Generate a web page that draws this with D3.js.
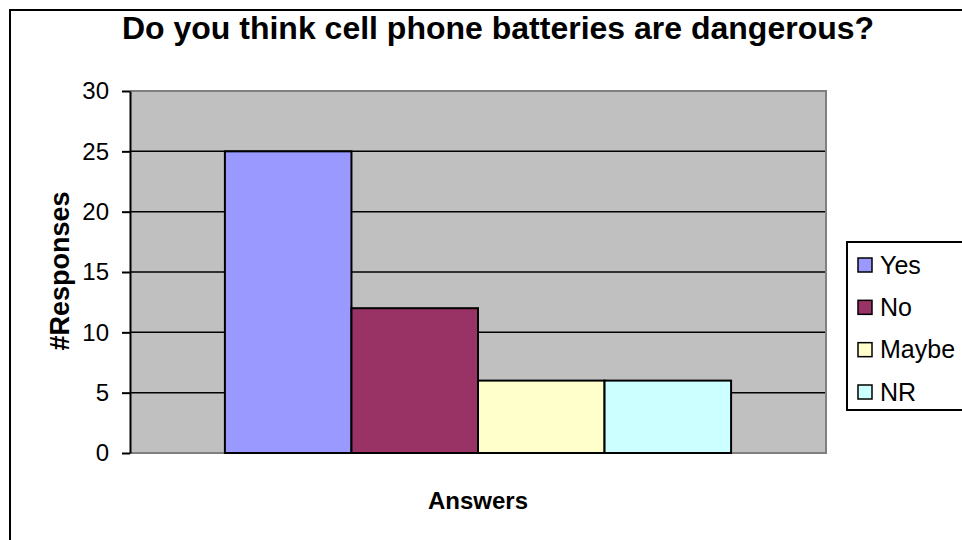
<!DOCTYPE html>
<html>
<head>
<meta charset="utf-8">
<script src="https://cdn.jsdelivr.net/npm/d3@7"></script>
<style>
  html, body { margin: 0; padding: 0; background: #fff; }
  svg { display: block; font-family: Arial, "Liberation Sans", sans-serif; }
</style>
</head>
<body>
<svg id="chart" width="962" height="540"></svg>
<script>
// Survey answers and counts
const categories = ["Yes", "No", "Maybe", "NR"];
const responses = [25, 12, 6, 6];
const seriesColors = ["#9999FF", "#993366", "#FFFFCC", "#CCFFFF"];
const yTickValues = [0, 5, 10, 15, 20, 25, 30];

const titleText = "Do you think cell phone batteries are dangerous?";
const yTitle = "#Responses";
const xTitle = "Answers";

const svg = d3.select("#chart");

// Plot area bounds
const plot = { left: 130, right: 826, top: 91, bottom: 453 };

// Outer chart frame
svg.append("rect")
  .attr("x", 10).attr("y", 10)
  .attr("width", 970).attr("height", 560)
  .attr("fill", "#fff").attr("stroke", "#000").attr("stroke-width", 2);

// Title
svg.append("text")
  .attr("x", 498).attr("y", 39)
  .attr("text-anchor", "middle")
  .attr("font-size", 32).attr("font-weight", "bold")
  .text(titleText);

const x = d3.scaleBand()
  .domain(categories)
  .range([plot.left, plot.right])
  .paddingInner(0)
  .paddingOuter(0.75);

const y = d3.scaleLinear()
  .domain([0, 30])
  .range([plot.bottom, plot.top]);

// Grey plot background
svg.append("rect")
  .attr("x", plot.left).attr("y", plot.top)
  .attr("width", plot.right - plot.left)
  .attr("height", plot.bottom - plot.top)
  .attr("fill", "#C0C0C0");

// Horizontal gridlines
svg.append("g")
  .selectAll("line")
  .data(yTickValues.filter(v => v > 0 && v < 30))
  .join("line")
  .attr("x1", plot.left).attr("x2", plot.right)
  .attr("y1", d => y(d)).attr("y2", d => y(d))
  .attr("stroke", "#000").attr("stroke-width", 1.5);

// Plot area border (top, right, bottom)
svg.append("path")
  .attr("d", `M${plot.left},${plot.top}H${plot.right}V${plot.bottom}H${plot.left}`)
  .attr("fill", "none").attr("stroke", "#808080").attr("stroke-width", 2);

// Bars
svg.append("g")
  .selectAll("rect")
  .data(categories.map((c, i) => ({ c, v: responses[i], color: seriesColors[i] })))
  .join("rect")
  .attr("x", d => x(d.c))
  .attr("y", d => y(d.v))
  .attr("width", x.bandwidth())
  .attr("height", d => y(0) - y(d.v))
  .attr("fill", d => d.color)
  .attr("stroke", "#000").attr("stroke-width", 2);

// Y axis
const yAxis = svg.append("g")
  .attr("transform", `translate(${plot.left},0)`)
  .call(d3.axisLeft(y).tickValues(yTickValues).tickSize(8).tickPadding(13).tickSizeOuter(0));
yAxis.select(".domain").attr("stroke", "#000").attr("stroke-width", 2);
yAxis.selectAll(".tick line").attr("stroke", "#000").attr("stroke-width", 2);
yAxis.selectAll(".tick text")
  .attr("font-size", 24)
  .attr("font-family", "Arial, 'Liberation Sans', sans-serif")
  .attr("fill", "#000");

// Axis titles
svg.append("text")
  .attr("transform", "translate(69,271) rotate(-90)")
  .attr("text-anchor", "middle")
  .attr("font-size", 27).attr("font-weight", "bold")
  .text(yTitle);

svg.append("text")
  .attr("x", 478).attr("y", 509)
  .attr("text-anchor", "middle")
  .attr("font-size", 24).attr("font-weight", "bold")
  .text(xTitle);

// Legend
const legend = svg.append("g");
legend.append("rect")
  .attr("x", 847).attr("y", 242)
  .attr("width", 130).attr("height", 168)
  .attr("fill", "#fff").attr("stroke", "#000").attr("stroke-width", 2);

const rowY = d3.scalePoint().domain(categories).range([265, 392]);
const rows = legend.selectAll("g.row")
  .data(categories.map((c, i) => ({ c, color: seriesColors[i] })))
  .join("g")
  .attr("class", "row")
  .attr("transform", d => `translate(858,${rowY(d.c)})`);
rows.append("rect")
  .attr("x", 0).attr("y", -7)
  .attr("width", 14).attr("height", 14)
  .attr("fill", d => d.color)
  .attr("stroke", "#000").attr("stroke-width", 1.5);
rows.append("text")
  .attr("x", 22).attr("y", 0)
  .attr("dy", "0.35em")
  .attr("font-size", 25)
  .text(d => d.c);
</script>
</body>
</html>
